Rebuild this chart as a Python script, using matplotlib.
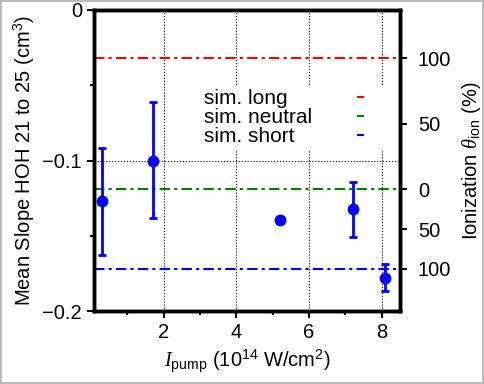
import matplotlib
matplotlib.use("Agg")
import matplotlib.pyplot as plt
from matplotlib.lines import Line2D
from matplotlib.legend_handler import HandlerBase

plt.rcParams['font.family'] = ['Liberation Sans', 'DejaVu Sans']
plt.rcParams['mathtext.fontset'] = 'custom'
plt.rcParams['mathtext.rm'] = 'Liberation Sans'
plt.rcParams['mathtext.it'] = 'Liberation Serif:italic'
plt.rcParams['font.size'] = 14.5

# measured points
pump = [0.3, 1.7, 5.2, 7.2, 8.08]
slope = [-0.127, -0.100, -0.1395, -0.132, -0.178]
err_lo = [0.036, 0.038, 0.002, 0.019, 0.009]
err_hi = [0.035, 0.039, 0.002, 0.018, 0.009]

# simulation levels
sim_names = ['sim. long', 'sim. neutral', 'sim. short']
sim_levels = [-0.032, -0.119, -0.172]
sim_colors = ['red', 'green', 'blue']

# right axis labels
ion_pos = [-0.032, -0.0755, -0.119, -0.1455, -0.172]
ion_labels = ['100', '50', '0', '50', '100']


class RightDash(HandlerBase):
    # short dash drawn well to the right of the label (gnuplot-like key)
    def create_artists(self, legend, orig, xdescent, ydescent, width, height,
                       fontsize, trans):
        x0 = 111
        y = height / 2 - ydescent
        return [Line2D([x0, x0 + 3.6], [y, y], color=orig.get_color(),
                       lw=1.5, transform=trans)]


fig = plt.figure(figsize=(4.84, 3.84), dpi=100)
fig.patch.set_edgecolor('#bbbbbb')
fig.patch.set_linewidth(1.5)
ax = fig.add_axes([0.194, 0.19, 0.632, 0.784])

for lev, c in zip(sim_levels, sim_colors):
    ax.axhline(lev, color=c, lw=1.5, dashes=(5, 2, 1.5, 2), zorder=2)

ax.errorbar(pump, slope, yerr=[err_lo, err_hi], fmt='o', color='blue',
            ms=7.5, lw=2, capsize=3, capthick=2, zorder=3)

ax.set_xlim(0.08, 8.5)
ax.set_ylim(-0.2, 0)
ax.set_xticks([2, 4, 6, 8])
ax.set_xticks([1, 3, 5, 7], minor=True)
ax.set_yticks([0, -0.1, -0.2])
ax.set_yticklabels(['0', '\u22120.1', '\u22120.2'])
ax.set_yticks([-0.05, -0.15], minor=True)
ax.xaxis.grid(True, which='major', ls=':', color='black', lw=0.8)
ax.axhline(-0.1, ls=':', color='black', lw=0.8, zorder=1)
ax.tick_params(which='major', direction='out', length=5, width=1.5)
ax.tick_params(which='minor', direction='out', length=3, width=1.5)
for s in ax.spines.values():
    s.set_linewidth(2.5)

ax.set_xlabel(r'$I_{\mathrm{pump}}$ (10$^{14}$ W/cm$^{2}$)', labelpad=4)
ax.set_ylabel(r'Mean Slope HOH 21 to 25 (cm$^{3}$)')

ax2 = ax.twinx()
ax2.set_ylim(ax.get_ylim())
ax2.set_yticks(ion_pos)
ax2.set_yticklabels(ion_labels)
ax2.tick_params(direction='out', length=5, width=1.5, pad=8)
for s in ax2.spines.values():
    s.set_linewidth(2.5)
ax2.set_ylabel(r'Ionization $\theta_{\mathrm{ion}}$ (%)', labelpad=6)

handles = [Line2D([], [], color=c, lw=1.5) for c in sim_colors]
leg = ax.legend(handles, sim_names, loc='upper left',
                bbox_to_anchor=(0.346, 0.551, 0.608, 0.2), mode='expand',
                frameon=True, fancybox=False, facecolor='white',
                edgecolor='none', framealpha=1, fontsize=15,
                handlelength=0, handletextpad=0, labelspacing=0.0,
                borderaxespad=0, borderpad=0.2,
                handler_map={Line2D: RightDash()})

fig.savefig('out.png', dpi=100)
